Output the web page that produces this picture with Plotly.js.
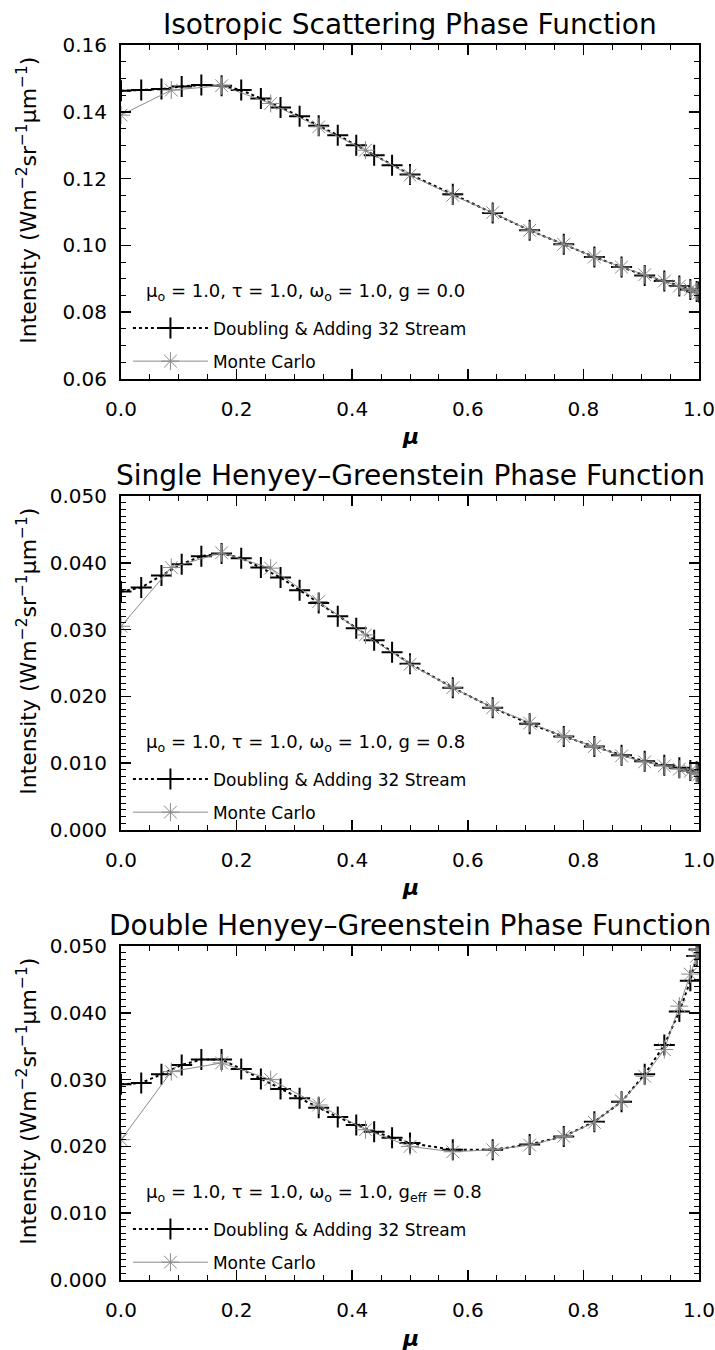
<!DOCTYPE html>
<html>
<head>
<meta charset="utf-8">
<script src="https://cdn.plot.ly/plotly-3.0.1.min.js"></script>
<style>html,body{margin:0;padding:0;background:#fff;}#chart{width:715px;height:1350px;}</style>
</head>
<body>
<div id="chart"></div>
<script>
// ---- data ----
const muDA = [0, 0.035, 0.070, 0.105, 0.139, 0.174, 0.208, 0.242, 0.276, 0.309, 0.342, 0.375, 0.407, 0.438, 0.469, 0.500, 0.574, 0.643, 0.707, 0.766, 0.819, 0.866, 0.906, 0.940, 0.966, 0.985, 0.996, 1.0];
const muMC = [0, 0.087, 0.174, 0.259, 0.342, 0.423, 0.500, 0.574, 0.643, 0.707, 0.766, 0.819, 0.866, 0.906, 0.940, 0.966, 0.985, 0.996, 1.0];

const isoDA = [0.1463, 0.1465, 0.1468, 0.1476, 0.1480, 0.1478, 0.1465, 0.1440, 0.1413, 0.1387, 0.1358, 0.1330, 0.1300, 0.1270, 0.1240, 0.1212, 0.1153, 0.1097, 0.1045, 0.1003, 0.0965, 0.0935, 0.0910, 0.0893, 0.0878, 0.0868, 0.0862, 0.0860];
const isoMC = [0.1390, 0.1465, 0.1478, 0.1425, 0.1355, 0.1285, 0.1210, 0.1150, 0.1098, 0.1045, 0.1003, 0.0965, 0.0935, 0.0912, 0.0893, 0.0878, 0.0868, 0.0862, 0.0858];

const shgDA = [0.0357, 0.0363, 0.0381, 0.0398, 0.0410, 0.0414, 0.0407, 0.0393, 0.0378, 0.0359, 0.0340, 0.0320, 0.0302, 0.0284, 0.0266, 0.0249, 0.0213, 0.0183, 0.0159, 0.0140, 0.0125, 0.0112, 0.0103, 0.0097, 0.0093, 0.0089, 0.0087, 0.0086];
const shgMC = [0.0305, 0.0393, 0.0415, 0.0392, 0.0342, 0.0292, 0.0248, 0.0213, 0.0183, 0.0160, 0.0140, 0.0125, 0.0111, 0.0102, 0.0096, 0.0091, 0.0088, 0.0085, 0.0083];

const dhgDA = [0.0293, 0.0295, 0.0308, 0.0322, 0.0330, 0.0330, 0.0316, 0.0301, 0.0286, 0.0272, 0.0258, 0.0244, 0.0232, 0.0222, 0.0213, 0.0205, 0.0195, 0.0195, 0.0203, 0.0215, 0.0237, 0.0267, 0.0308, 0.0352, 0.0402, 0.0448, 0.0485, 0.0495];
const dhgMC = [0.0210, 0.0312, 0.0325, 0.0300, 0.0262, 0.0225, 0.0200, 0.0192, 0.0195, 0.0202, 0.0215, 0.0236, 0.0268, 0.0305, 0.0345, 0.0410, 0.0458, 0.0485, 0.0495];

const titles = ['Isotropic Scattering Phase Function', 'Single Henyey\u2013Greenstein Phase Function', 'Double Henyey\u2013Greenstein Phase Function'];
const params = [
  '\u03bc<sub>o</sub> = 1.0, \u03c4 = 1.0, \u03c9<sub>o</sub> = 1.0, g = 0.0',
  '\u03bc<sub>o</sub> = 1.0, \u03c4 = 1.0, \u03c9<sub>o</sub> = 1.0, g = 0.8',
  '\u03bc<sub>o</sub> = 1.0, \u03c4 = 1.0, \u03c9<sub>o</sub> = 1.0, g<sub>eff</sub> = 0.8'
];
const seriesNames = ['Doubling & Adding 32 Stream', 'Monte Carlo'];
const yTitle = 'Intensity (Wm<sup>\u22122</sup>sr<sup>\u22121</sup>\u03bcm<sup>\u22121</sup>)';
const xTitle = '\u03bc';
const yRanges = [[0.06, 0.16], [0.0, 0.05], [0.0, 0.05]];
const yDticks = [0.02, 0.01, 0.01];
const yMinor = [0.005, 0.001, 0.001];
const yFormats = ['.2f', '.3f', '.3f'];
const daSets = [isoDA, shgDA, dhgDA];
const mcSets = [isoMC, shgMC, dhgMC];

// ---- layout geometry ----
const W = 715, H = 1350;
const mL = 121, mR = 16, mT = 45, mB = 70;
const domains = [[0.7296, 1.0], [0.3644, 0.6348], [0.0, 0.2704]];
const FONT = 'DejaVu Sans';

const traces = [];
const annotations = [];
const layout = {
  width: W, height: H,
  margin: {l: mL, r: mR, t: mT, b: mB},
  paper_bgcolor: '#ffffff', plot_bgcolor: '#ffffff',
  font: {family: FONT, color: '#000'},
  annotations: annotations
};

for (let i = 0; i < 3; i++) {
  const sfx = i === 0 ? '' : String(i + 1);
  const xa = 'x' + sfx, ya = 'y' + sfx;
  const lg = 'legend' + sfx;
  traces.push({
    x: muDA, y: daSets[i], xaxis: xa, yaxis: ya,
    type: 'scatter', mode: 'lines+markers', name: seriesNames[0],
    line: {color: '#000', width: 2, dash: '3px,3px'},
    marker: {symbol: 'cross-thin-open', size: 15, color: '#000', line: {color: '#000', width: 2}},
    legend: lg, legendgroup: 'da' + i, legendrank: 1, showlegend: true
  });
  traces.push({
    x: muMC, y: mcSets[i], xaxis: xa, yaxis: ya,
    type: 'scatter', mode: 'lines+markers', name: seriesNames[1],
    line: {color: '#8a8a8a', width: 1},
    marker: {symbol: 'asterisk-open', size: 15, color: '#8a8a8a', line: {color: '#8a8a8a', width: 1}},
    legend: lg, legendgroup: 'mc' + i, legendrank: 2, showlegend: true
  });

  const d = domains[i];
  layout['xaxis' + sfx] = {
    domain: [0, 1], anchor: ya, range: [0, 1],
    dtick: 0.2, tick0: 0, tickformat: '.1f',
    showline: true, linewidth: 2, linecolor: '#000', mirror: 'allticks',
    ticks: 'inside', ticklen: 10, tickwidth: 1.5, tickcolor: '#000',
    minor: {ticks: 'inside', ticklen: 5, tickwidth: 1, tickcolor: '#000', dtick: 0.05, showgrid: false},
    showgrid: false, zeroline: false, ticklabelstandoff: 11,
    tickfont: {family: FONT, size: 20, color: '#000'}
  };
  layout['yaxis' + sfx] = {
    domain: d, anchor: xa, range: yRanges[i],
    dtick: yDticks[i], tick0: 0, tickformat: yFormats[i],
    showline: true, linewidth: 2, linecolor: '#000', mirror: 'allticks',
    ticks: 'inside', ticklen: 10, tickwidth: 1.5, tickcolor: '#000',
    minor: {ticks: 'inside', ticklen: 5, tickwidth: 1, tickcolor: '#000', dtick: yMinor[i], showgrid: false},
    showgrid: false, zeroline: false, ticklabelstandoff: 8,
    tickfont: {family: FONT, size: 20, color: '#000'}
  };

  annotations.push({xref: 'paper', yref: 'paper', x: 0.5, y: d[1], xanchor: 'center', yanchor: 'bottom', yshift: 2,
    text: titles[i], showarrow: false, font: {family: FONT, size: 28, color: '#000'}});
  annotations.push({xref: 'paper', yref: 'paper', x: 0.5, y: d[0], xanchor: 'center', yanchor: 'middle', yshift: -58,
    text: '<i><b>' + xTitle + '</b></i>', showarrow: false, font: {family: FONT, size: 22, color: '#000'}});
  annotations.push({xref: 'paper', yref: 'paper', x: -0.163, y: (d[0] + d[1]) / 2, xanchor: 'center', yanchor: 'middle', yshift: 12,
    textangle: -90, text: yTitle, showarrow: false, font: {family: FONT, size: 22, color: '#000'}});
  annotations.push({xref: xa + ' domain', yref: ya + ' domain', x: 0.04, y: 0.26, xanchor: 'left', yanchor: 'middle',
    text: params[i], showarrow: false, font: {family: FONT, size: 18, color: '#000'}});

  const legTop = d[0] + 0.205 * (d[1] - d[0]);
  layout[lg] = {
    x: 0.012, y: legTop, xanchor: 'left', yanchor: 'top',
    bgcolor: 'rgba(0,0,0,0)', borderwidth: 0,
    traceorder: 'grouped', tracegroupgap: 8, itemwidth: 75,
    font: {family: FONT, size: 17, color: '#000'}
  };
}

Plotly.newPlot('chart', traces, layout, {displayModeBar: false, staticPlot: true});
</script>
</body>
</html>
